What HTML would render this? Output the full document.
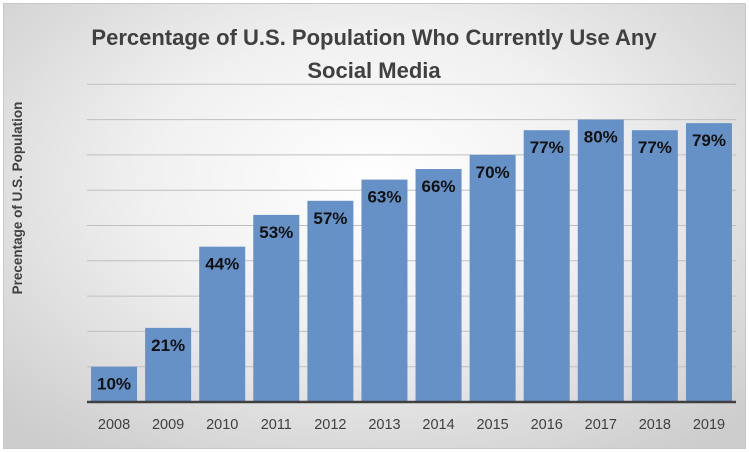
<!DOCTYPE html>
<html><head><meta charset="utf-8"><style>
html,body{margin:0;padding:0;width:749px;height:452px;overflow:hidden;background:#fff}
#c{position:absolute;left:3px;top:3px;width:741px;height:444px;border:1px solid #c8c8c8;
background:radial-gradient(ellipse 70% 75% at 50% 40%,#ffffff 0%,#f0f0f0 45%,#cdcdcd 100%)}
svg{position:absolute;left:0;top:0}
text{font-family:"Liberation Sans",Arial,sans-serif}
</style></head><body>
<div id="c"></div>
<svg id="s" width="749" height="452">
<text x="374" y="45" text-anchor="middle" font-size="22" font-weight="bold" fill="#404040">Percentage of U.S. Population Who Currently Use Any</text>
<text x="374" y="78" text-anchor="middle" font-size="22" font-weight="bold" fill="#404040">Social Media</text>
<text transform="translate(22,198) rotate(-90)" text-anchor="middle" font-size="13.5" font-weight="bold" fill="#404040">Precentage of U.S. Population</text>
<g id="grid"></g><g id="bars"></g><g id="labels"></g>
</svg>
<script>
const categories=["2008","2009","2010","2011","2012","2013","2014","2015","2016","2017","2018","2019"];
const values=[10,21,44,53,57,63,66,70,77,80,77,79];
const gridTicks=[10,20,30,40,50,60,70,80,90];
const NS="http://www.w3.org/2000/svg";
const x0=87,x1=736,yBase=402,pxPer=3.53;
const band=(x1-x0)/categories.length,bw=46;
const y=v=>yBase-v*pxPer;
const xc=i=>x0+band*(i+0.5);
function mk(t,a,p){const e=document.createElementNS(NS,t);for(const k in a)e.setAttribute(k,a[k]);p.appendChild(e);return e;}
const g=document.getElementById('grid'),b=document.getElementById('bars'),l=document.getElementById('labels');
gridTicks.forEach(t=>{const e=mk('line',{x1:x0,x2:x1,y1:y(t),y2:y(t),stroke:'#bfbfbf','stroke-width':1},g);

});
values.forEach((v,i)=>{
const r=mk('rect',{x:xc(i)-bw/2,y:y(v),width:bw,height:yBase-y(v),fill:'#6591c7'},b);


const t=mk('text',{x:xc(i),y:y(v)+23,'text-anchor':'middle','font-size':17,'font-weight':'bold',fill:'#111'},l);
t.textContent=v+'%';


const c=mk('text',{x:xc(i),y:429,'text-anchor':'middle','font-size':14.5,fill:'#404040'},l);
c.textContent=categories[i];


});
const ax=mk('line',{x1:x0,x2:x1,y1:yBase,y2:yBase,stroke:'#404040','stroke-width':2.5},l);


</script>
</body></html>
